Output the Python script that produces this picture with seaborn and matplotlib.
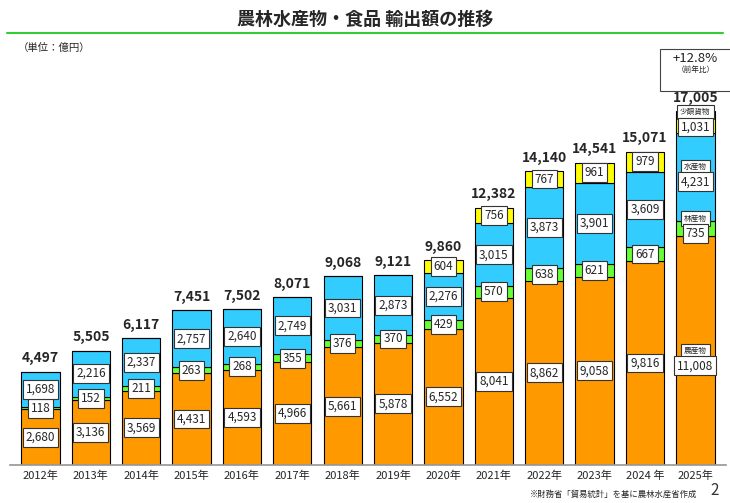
import matplotlib
matplotlib.use("Agg")
import matplotlib.pyplot as plt
import seaborn as sns
import pandas as pd
import numpy as np

years = ["2012年","2013年","2014年","2015年","2016年","2017年","2018年","2019年","2020年","2021年","2022年","2023年","2024 年","2025年"]
agri = [2680,3136,3569,4431,4593,4966,5661,5878,6552,8041,8862,9058,9816,11008]
forest = [118,152,211,263,268,355,376,370,429,570,638,621,667,735]
fish = [1698,2216,2337,2757,2640,2749,3031,2873,2276,3015,3873,3901,3609,4231]
small = [0,0,0,0,0,0,0,0,604,756,767,961,979,1031]
totals = [4497,5505,6117,7451,7502,8071,9068,9121,9860,12382,14140,14541,15071,17005]

sns.set_theme(style="white")
plt.rcParams['font.family'] = ['Noto Sans CJK JP', 'DejaVu Sans']

fig = plt.figure(figsize=(7.3, 5.03), dpi=100)
ax = fig.add_axes([0.014, 0.0755, 0.98, 0.806])

df = pd.DataFrame({"year": years, "agri": agri, "forest": forest, "fish": fish, "small": small})
a = np.array(agri); f = np.array(forest); s = np.array(fish); m = np.array(small)
layers = [("agri", a, 0, "#FF9900"), ("forest", f, a, "#66FF33"),
          ("fish", s, a + f, "#33CCFF"), ("small", m, a + f + s, "#FFFF00")]
for name, vals, bot, col in layers:
    sns.barplot(data=df, x="year", y=name, bottom=bot, color=col, width=0.76,
                edgecolor="black", linewidth=0.8, saturation=1, ax=ax)

box = dict(boxstyle="square,pad=0.25", fc="white", ec="#333333", lw=0.8)
names = {"agri": "農産物", "forest": "林産物", "fish": "水産物", "small": "少額貨物"}
n = len(years)
for i in range(n):
    last = (i == n - 1)
    for name, vals, bot, col in layers:
        v = vals[i]
        if v == 0:
            continue
        b = bot if np.isscalar(bot) else bot[i]
        if name == "agri":
            y = min(v / 2, 5000)
        else:
            y = b + v / 2
        txt = f"{v:,}"
        if last:
            ax.text(i, y + 480, names[name], ha="center", va="center", fontsize=5.5,
                    bbox=dict(boxstyle="square,pad=0.4", fc="white", ec="#333333", lw=0.8))
            ax.text(i, y - 230, txt, ha="center", va="center", fontsize=8.5,
                    bbox=dict(boxstyle="square,pad=0.25", fc="white", ec="#333333", lw=0.8))
        else:
            ax.text(i, y, txt, ha="center", va="center", fontsize=8.5, bbox=box)
    ax.text(i, totals[i] + 300, f"{totals[i]:,}", ha="center", va="bottom",
            fontsize=10, fontweight="bold")

ax.annotate("（前年比）", xy=(n - 1, 17950), xytext=(n - 1, 19000), ha="center", va="center",
            fontsize=5.5, annotation_clip=False, color="#222222",
            bbox=dict(boxstyle="square,pad=2.2", fc="white", ec="#444444", lw=0.8),
            arrowprops=dict(arrowstyle="-", color="#444444", lw=0.8))
ax.text(n - 1, 19530, "+12.8%", ha="center", va="center", fontsize=9.5,
        color="#222222", clip_on=False)

ax.set_ylim(0, 19500)
ax.set_xlim(-0.6, n - 0.4)
ax.set_xlabel(""); ax.set_ylabel("")
ax.set_yticks([])
ax.tick_params(axis="x", labelsize=8, length=0, pad=4)
for sp in ["top", "right", "left"]:
    ax.spines[sp].set_visible(False)
ax.spines["bottom"].set_color("#999999")

fig.text(0.5, 0.962, "農林水産物・食品 輸出額の推移", ha="center", va="center",
         fontsize=13, fontweight="bold")
fig.add_artist(plt.Line2D([0.01, 0.99], [0.935, 0.935], color="#33CC33", lw=1.5))
fig.text(0.025, 0.905, "（単位：億円）", ha="left", va="center", fontsize=7.5)
fig.text(0.955, 0.018, "※財務省「貿易統計」を基に農林水産省作成", ha="right", va="center", fontsize=6)
fig.text(0.985, 0.025, "2", ha="right", va="center", fontsize=11, color="#333333")

fig.savefig("out.png", dpi=100)
